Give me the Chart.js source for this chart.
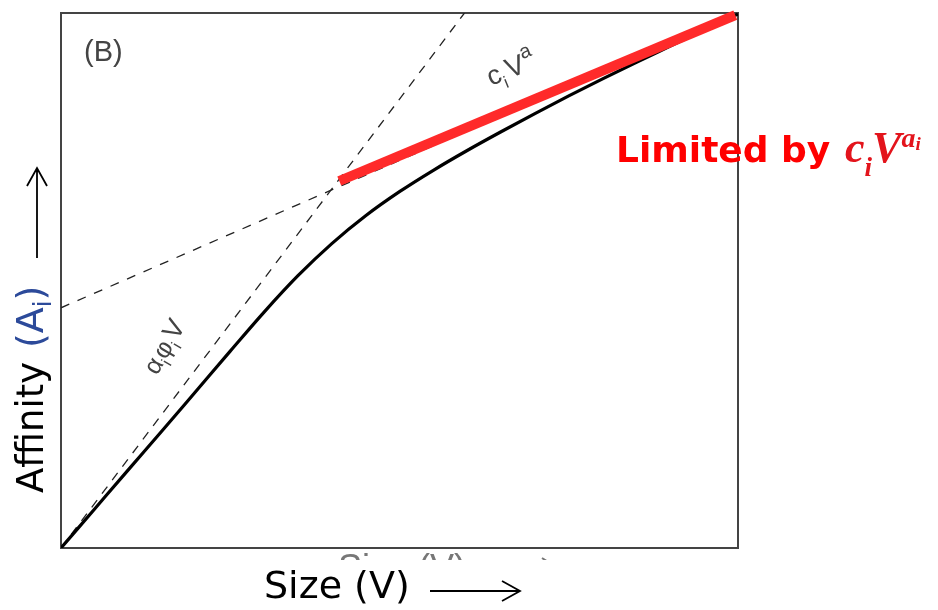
<!DOCTYPE html>
<html>
<head>
<meta charset="utf-8">
<script src="https://cdn.jsdelivr.net/npm/chart.js@4.4.1/dist/chart.umd.min.js"></script>
<style>
  html, body { margin: 0; padding: 0; background: #fff; }
  canvas { display: block; }
</style>
</head>
<body>
<canvas id="affinity" width="938" height="610"></canvas>
<script>
// size axis samples and the affinity curve (arbitrary units, box is 0-100)
const sizeGrid = [0, 5, 10, 15, 20, 25, 30, 35, 40, 45, 50, 55, 60, 65, 70, 75, 80, 85, 90, 95, 100];
const affinity = [0, 7.35, 14.7, 22.0, 29.4, 36.8, 44.1, 50.9, 56.9, 62.1, 66.6, 70.6, 74.3, 77.8, 81.2, 84.5, 87.7, 90.8, 93.8, 96.8, 99.8];

// small-size asymptote (alpha_i phi_i V)
const linearX = [0, 59.6];
const linearY = [0, 100];
// large-size asymptote (c_i V^a)
const powerX = [0, 100];
const powerY = [44.9, 100];
// highlighted regime
const limitX = [41.1, 99.6];
const limitY = [68.6, 99.6];

const pairs = (xs, ys) => xs.map((x, i) => ({ x, y: ys[i] }));

const box = {
  id: "box",
  beforeDatasetsDraw(chart) {
    const { ctx, chartArea: a } = chart;
    ctx.save();
    ctx.strokeStyle = "#444";
    ctx.lineWidth = 2;
    ctx.strokeRect(a.left, a.top, a.right - a.left, a.bottom - a.top);
    ctx.restore();
  },
};

// draws a run of [text, font, dy, gapAfter] pieces along the current baseline
function run(ctx, parts) {
  let x = 0;
  for (const [t, font, dy, gap] of parts) {
    ctx.font = font;
    ctx.fillText(t, x, dy || 0);
    x += ctx.measureText(t).width + (gap || 0);
  }
  return x;
}

function arrow(ctx, x1, y1, x2, y2, head, spread) {
  const ang = Math.atan2(y2 - y1, x2 - x1);
  ctx.beginPath();
  ctx.moveTo(x1, y1);
  ctx.lineTo(x2, y2);
  ctx.moveTo(x2 - head * Math.cos(ang) + spread * Math.sin(ang), y2 - head * Math.sin(ang) - spread * Math.cos(ang));
  ctx.lineTo(x2, y2);
  ctx.lineTo(x2 - head * Math.cos(ang) - spread * Math.sin(ang), y2 - head * Math.sin(ang) + spread * Math.cos(ang));
  ctx.stroke();
}

const labels = {
  id: "labels",
  afterDraw(chart) {
    const { ctx } = chart;
    ctx.save();
    ctx.textBaseline = "alphabetic";

    // panel tag
    ctx.fillStyle = "#444";
    ctx.font = "29px 'Liberation Sans'";
    ctx.fillText("(B)", 84, 61);

    // c_i V^a along the upper asymptote
    ctx.save();
    ctx.translate(491, 86);
    ctx.rotate(-22 * Math.PI / 180);
    ctx.fillStyle = "#444";
    run(ctx, [
      ["c", "27px 'Liberation Sans'"],
      ["i", "17px 'Liberation Sans'", 8, 3],
      ["V", "28px 'Liberation Sans'"],
      ["a", "20px 'Liberation Sans'", -13],
    ]);
    ctx.restore();

    // alpha_i phi_i V along the lower asymptote
    ctx.save();
    ctx.translate(157, 376);
    ctx.rotate(-60 * Math.PI / 180);
    ctx.fillStyle = "#444";
    run(ctx, [
      ["α", "25px 'Liberation Sans'"],
      ["i", "16px 'Liberation Sans'", 7],
      ["φ", "25px 'Liberation Sans'"],
      ["i", "16px 'Liberation Sans'", 7, 2],
      ["V", "27px 'Liberation Sans'"],
    ]);
    ctx.restore();

    // old axis title, cut off under the frame
    ctx.save();
    ctx.beginPath();
    ctx.rect(300, 550, 300, 10);
    ctx.clip();
    ctx.fillStyle = "#777";
    ctx.font = "36px 'Liberation Sans'";
    ctx.fillText("Size (V)", 338, 580);
    ctx.strokeStyle = "#777";
    ctx.lineWidth = 2;
    arrow(ctx, 500, 567, 556, 567, 14, 9);
    ctx.restore();

    // x axis title
    ctx.fillStyle = "#000";
    ctx.font = "38px 'DejaVu Sans'";
    ctx.fillText("Size (V)", 264, 598);
    ctx.strokeStyle = "#000";
    ctx.lineWidth = 1.8;
    arrow(ctx, 430, 591, 520, 591, 18, 10);

    // y axis title
    ctx.save();
    ctx.translate(43, 493);
    ctx.rotate(-Math.PI / 2);
    ctx.fillStyle = "#000";
    ctx.font = "37px 'DejaVu Sans'";
    ctx.fillText("Affinity", 0, 0);
    ctx.translate(145, 0);
    ctx.fillStyle = "#2c4a9a";
    run(ctx, [
      ["(", "38px 'DejaVu Sans'"],
      ["A", "38px 'DejaVu Sans'"],
      ["i", "24px 'DejaVu Sans'", 8],
      [")", "38px 'DejaVu Sans'"],
    ]);
    ctx.restore();
    ctx.strokeStyle = "#000";
    ctx.lineWidth = 1.8;
    arrow(ctx, 37, 258, 37, 168, 18, 10);

    // call-out for the highlighted regime
    ctx.fillStyle = "#ff0000";
    ctx.font = "bold 36px 'DejaVu Sans'";
    ctx.fillText("Limited by", 616, 162);
    ctx.save();
    ctx.translate(845, 162);
    ctx.fillStyle = "#e3141c";
    run(ctx, [
      ["c", "italic bold 44px 'Liberation Serif'"],
      ["i", "italic bold 27px 'Liberation Serif'", 14],
      ["V", "italic bold 44px 'Liberation Serif'"],
      ["a", "italic bold 28px 'Liberation Serif'", -15],
      ["i", "italic bold 19px 'Liberation Serif'", -12],
    ]);
    ctx.restore();

    ctx.restore();
  },
};

new Chart(document.getElementById("affinity"), {
  type: "line",
  data: {
    datasets: [
      {
        data: pairs(limitX, limitY),
        borderColor: "#ff2a2a",
        borderWidth: 10,
        borderCapStyle: "butt",
        clip: false,
      },
      {
        data: pairs(sizeGrid, affinity),
        borderColor: "#000",
        borderWidth: 3.2,
        tension: 0.4,
        cubicInterpolationMode: "monotone",
      },
      {
        data: pairs(linearX, linearY),
        borderColor: "#222",
        borderWidth: 1.3,
        borderDash: [9, 8],
      },
      {
        data: pairs(powerX, powerY),
        borderColor: "#222",
        borderWidth: 1.3,
        borderDash: [9, 9],
      },
    ],
  },
  options: {
    responsive: false,
    animation: false,
    devicePixelRatio: 1,
    layout: { padding: { left: 61, right: 200, top: 13, bottom: 62 } },
    elements: { point: { radius: 0 } },
    scales: {
      x: { type: "linear", min: 0, max: 100, display: false },
      y: { type: "linear", min: 0, max: 100, display: false },
    },
    plugins: { legend: { display: false }, tooltip: { enabled: false } },
  },
  plugins: [box, labels],
});
</script>
</body>
</html>
